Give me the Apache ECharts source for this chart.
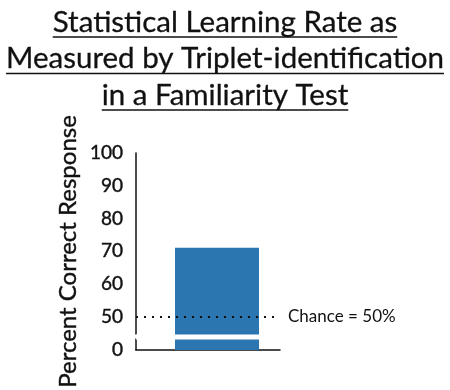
<!DOCTYPE html>
<html>
<head>
<meta charset="utf-8">
<script src="https://cdn.jsdelivr.net/npm/echarts@6/dist/echarts.min.js"></script>
<style>
html,body{margin:0;padding:0;background:#fff;}
#chart{width:450px;height:390px;}
</style>
</head>
<body>
<div id="chart"></div>
<script>
// ---- data ----
const titleLines = ['Statistical Learning Rate as', 'Measured by Triplet-identification', 'in a Familiarity Test'];
const categories = ['Familiarity Test'];
const percentCorrect = [71];
const yTickLabels = [0, 50, 60, 70, 80, 90, 100];
const chanceLevel = 50;
const chanceLabel = 'Chance = 50%';
const yAxisName = 'Percent Correct Response';
const axisBreak = { start: 3.3, end: 44.6 };

// ---- chart ----
const FONT = 'Lato, "Open Sans", sans-serif';
const chart = echarts.init(document.getElementById('chart'), null, { renderer: 'canvas' });

const titleSize = 29.5;
const ctx = document.createElement('canvas').getContext('2d');
ctx.font = titleSize + 'px Lato';
const titleGraphics = [];
const lineCenters = [24, 60.5, 97];
titleLines.forEach((t, i) => {
  const w = ctx.measureText(t).width;
  titleGraphics.push({
    type: 'text', left: 'center', top: lineCenters[i] - titleSize / 2 - 2,
    style: { text: t, font: titleSize + 'px ' + FONT, fill: '#111', stroke: '#111', lineWidth: 0.3 }
  });
  const uy = lineCenters[i] + 13;
  titleGraphics.push({
    type: 'line',
    shape: { x1: 225 - w / 2, y1: uy, x2: 225 + w / 2, y2: uy },
    style: { stroke: '#111', lineWidth: 1.6 }
  });
});

chart.setOption({
  animation: false,
  backgroundColor: '#fff',
  graphic: titleGraphics,
  grid: { left: 136, right: 170, top: 153, bottom: 37, containLabel: false },
  xAxis: {
    type: 'category',
    data: categories,
    axisLine: { show: true, lineStyle: { color: '#111', width: 1.5 } },
    axisTick: { show: false },
    axisLabel: { show: false }
  },
  yAxis: {
    type: 'value',
    min: 0, max: 100, interval: 10,
    name: yAxisName,
    nameLocation: 'middle',
    nameGap: 56,
    nameTextStyle: { fontFamily: FONT, fontSize: 24, color: '#111', textBorderColor: '#111', textBorderWidth: 0.4 },
    breaks: [{ start: axisBreak.start, end: axisBreak.end, gap: '2.5%' }],
    breakArea: {
      show: true,
      expandOnClick: false,
      zigzagAmplitude: 0,
      itemStyle: { color: '#fff', borderColor: '#fff', borderWidth: 0, opacity: 1 }
    },
    breakLabelLayout: { moveOverlap: false },
    axisLine: { show: true, lineStyle: { color: '#111', width: 1.5 } },
    axisTick: { show: false },
    splitLine: { show: false },
    axisLabel: {
      margin: 13,
      customValues: yTickLabels,
      hideOverlap: false,
      fontFamily: FONT, fontSize: 19, color: '#111', textBorderColor: '#111', textBorderWidth: 0.4,
      formatter: v => String(v)
    }
  },
  series: [{
    // empty spacer so the bar sits slightly right of the category centre, as in the original
    type: 'bar',
    name: 'spacer',
    data: [],
    barWidth: 18,
    barGap: 0,
    silent: true
  }, {
    type: 'bar',
    name: 'Percent correct',
    data: percentCorrect,
    barWidth: 84,
    barGap: 0,
    itemStyle: { color: '#2b76b0' },
    markLine: {
      silent: true,
      symbol: 'none',
      data: [{ yAxis: chanceLevel }],
      lineStyle: { color: '#111', type: [2, 6], width: 2 },
      label: {
        show: true, position: 'end', distance: 8,
        formatter: chanceLabel,
        fontFamily: FONT, fontSize: 17, color: '#111'
      }
    }
  }]
});
</script>
</body>
</html>
